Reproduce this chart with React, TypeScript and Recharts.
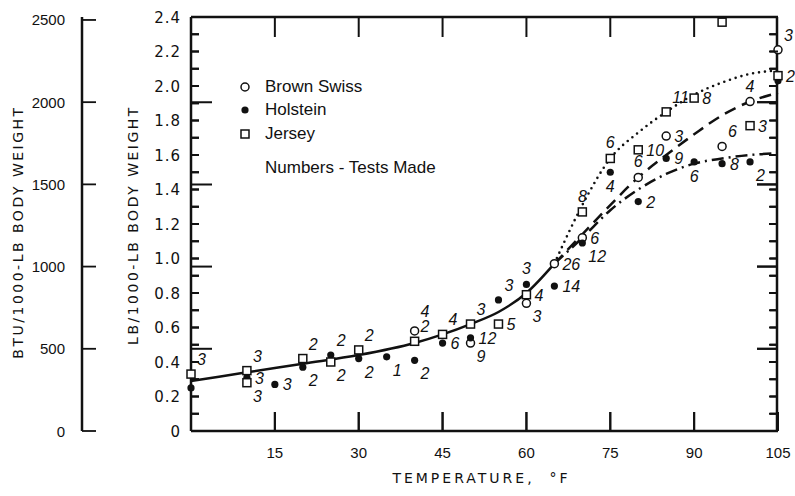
import React from 'react';
import { ComposedChart, Line, Scatter, XAxis, YAxis, Legend } from 'recharts';

// axis ticks
const X_TICKS = [15, 30, 45, 60, 75, 90, 105];
const EDGE_X_TICKS = [15, 30, 45, 60, 75, 90];
const LB_TICKS = [0, 0.2, 0.4, 0.6, 0.8, 1.0, 1.2, 1.4, 1.6, 1.8, 2.0, 2.2, 2.4];
const LB_ALL = [0, 0.1, 0.2, 0.3, 0.4, 0.5, 0.6, 0.7, 0.8, 0.9, 1.0, 1.1, 1.2, 1.3, 1.4, 1.5, 1.6, 1.7, 1.8, 1.9, 2.0, 2.1, 2.2, 2.3, 2.4];
const LB_MINOR = [0.1, 0.2, 0.3, 0.4, 0.5, 0.6, 0.7, 0.8, 0.9, 1.0, 1.1, 1.2, 1.3, 1.4, 1.5, 1.6, 1.7, 1.8, 1.9, 2.0, 2.1, 2.2, 2.3];
const BTU_TICKS = [0, 500, 1000, 1500, 2000, 2500];
const BTU_LONG = [500, 1000, 1500, 2000];

// fitted curves (temperature F, lb/1000-lb body weight)
const COMMON_T = [0, 10, 20, 30, 40, 45, 50, 55, 60, 65];
const COMMON_R = [0.29, 0.34, 0.39, 0.44, 0.51, 0.56, 0.62, 0.69, 0.8, 0.97];
const WARM_T = [65, 70, 75, 80, 85, 90, 95, 100, 105];
const JE_CURVE = [0.97, 1.31, 1.58, 1.73, 1.85, 1.95, 2.02, 2.07, 2.09];
const BS_CURVE = [0.97, 1.14, 1.31, 1.47, 1.6, 1.72, 1.83, 1.91, 1.96];
const HO_CURVE = [0.97, 1.12, 1.28, 1.4, 1.49, 1.55, 1.58, 1.6, 1.61];

// Brown Swiss
const BS_TEMP = [40, 50, 60, 65, 70, 80, 85, 95, 100, 105];
const BS_RATE = [0.58, 0.51, 0.74, 0.97, 1.12, 1.47, 1.71, 1.65, 1.91, 2.21];
const BS_TESTS = [4, 9, 3, 26, 6, 6, 3, 6, 4, 3];
const BS_SIDE = ['ur', 'br', 'br', 'r', 'r', 't', 'r', 'tr', 't', 'tr'];

// Holstein
const HO_TEMP = [0, 10, 15, 20, 25, 30, 35, 40, 45, 50, 55, 60, 65, 70, 75, 80, 85, 90, 95, 100, 105];
const HO_RATE = [0.25, 0.31, 0.27, 0.37, 0.44, 0.42, 0.43, 0.41, 0.51, 0.54, 0.76, 0.85, 0.84, 1.09, 1.5, 1.33, 1.58, 1.56, 1.55, 1.56, 2.03];
const HO_TESTS = [null, 3, 3, 2, 2, 2, 1, 2, 6, 12, 3, 3, 14, 12, 4, 2, 9, 6, 8, 2, null];
const HO_SIDE = ['', 'r', 'r', 'br', 'tr', 'br', 'br', 'br', 'r', 'r', 'tr', 't', 'r', 'br', 'b', 'r', 'r', 'b', 'r', 'br', ''];

// Jersey
const JE_TEMP = [0, 10, 10, 20, 25, 30, 40, 45, 50, 55, 60, 70, 75, 80, 85, 90, 95, 100, 105];
const JE_RATE = [0.33, 0.35, 0.28, 0.42, 0.4, 0.47, 0.52, 0.56, 0.62, 0.62, 0.79, 1.27, 1.58, 1.63, 1.85, 1.93, 2.37, 1.77, 2.06];
const JE_TESTS = [3, 3, 3, 2, 2, 2, 2, 4, 3, 5, 4, 8, 6, 10, 11, 8, null, 3, 2];
const JE_SIDE = ['tr', 'tr', 'br', 'tr', 'br', 'tr', 'tr', 'tr', 'tr', 'r', 'r', 't', 't', 'r', 'tr', 'r', '', 'r', 'r'];

const INK = '#111';
const PLAIN = "'Liberation Sans', Arial, sans-serif";
const LETTER = "'DejaVu Sans', sans-serif";
const X_MAX = 105;
const LB_MAX = 2.4;
const BTU_DOMAIN = [0, 2518];
const MARK_W = 2;

const curve = (t: number[], r: number[]) => t.map((x, i) => ({ x, y: r[i] }));
const points = (t: number[], r: number[], n: (number | null)[], side: string[]) =>
  t.map((x, i) => ({ x, y: r[i], n: n[i], side: side[i] }));
const atX = (x: number, ys: number[]) => ys.map((y) => ({ x, y }));
const atY = (y: number, xs: number[]) => xs.map((x) => ({ x, y }));

// where the "tests made" count sits relative to its marker
const SIDES: Record<string, { dx: number; dy: number; anchor: string }> = {
  r: { dx: 8, dy: 6, anchor: 'start' },
  tr: { dx: 6, dy: -9, anchor: 'start' },
  ur: { dx: 6, dy: -14, anchor: 'start' },
  br: { dx: 6, dy: 19, anchor: 'start' },
  t: { dx: 0, dy: -10, anchor: 'middle' },
  b: { dx: 0, dy: 20, anchor: 'middle' },
};

const KIND: Record<string, string> = { 'Brown Swiss': 'open', Holstein: 'filled', Jersey: 'square' };

function Marker({ kind, cx, cy }: { kind: string; cx: number; cy: number }) {
  if (kind === 'open') return <circle cx={cx} cy={cy} r={4} fill="#fff" stroke={INK} strokeWidth={1.5} />;
  if (kind === 'filled') return <circle cx={cx} cy={cy} r={3.6} fill={INK} />;
  return <rect x={cx - 4} y={cy - 4} width={8} height={8} fill="#fff" stroke={INK} strokeWidth={1.5} />;
}

const makeShape = (kind: string) => (props: any) => {
  const { cx, cy, payload } = props;
  const s = SIDES[payload.side];
  return (
    <g>
      <Marker kind={kind} cx={cx} cy={cy} />
      {s && payload.n != null && (
        <text
          x={cx + s.dx}
          y={cy + s.dy}
          textAnchor={s.anchor as any}
          style={{ fontFamily: PLAIN, fontStyle: 'italic', fontSize: 16, fill: INK }}
        >
          {payload.n}
        </text>
      )}
    </g>
  );
};

// short inward mark on the frame, drawn from the scaled position
const edgeMark = (dx: number, dy: number) => (props: any) => (
  <g>
    <path d={`M${props.cx},${props.cy}L${props.cx + dx},${props.cy + dy}`} stroke={INK} strokeWidth={MARK_W} fill="none" />
  </g>
);

// temperature labels plus the inward marks above them
const XTick = ({ x, y, payload }: any) => (
  <g>
    <path d={`M${x},${y - 16}L${x},${y - 35}`} stroke={INK} strokeWidth={MARK_W} fill="none" />
    <text x={x} y={y + 11} textAnchor="middle" style={{ fontFamily: PLAIN, fontSize: 15, fill: INK }}>
      {payload.value}
    </text>
  </g>
);

const TopTick = ({ x, y }: any) => (
  <path d={`M${x},${y}L${x},${y + 20}`} stroke={INK} strokeWidth={MARK_W} fill="none" />
);

// lb scale: mark every 0.1, label every 0.2
const LbTick = ({ x, y, payload }: any) => {
  const v = payload.value;
  return (
    <g>
      <path d={`M${x + 10},${y}L${x + 18},${y}`} stroke={INK} strokeWidth={MARK_W} fill="none" />
      {LB_TICKS.includes(v) && (
        <text x={x} y={y + 5.5} textAnchor="end" style={{ fontFamily: LETTER, fontSize: 15, letterSpacing: 1, fill: INK }}>
          {v === 0 ? '0' : v.toFixed(1)}
        </text>
      )}
    </g>
  );
};

// BTU scale: mark points right from its axis line, label sits left of it
const BtuTick = ({ x, y, payload }: any) => (
  <g>
    <line x1={x + 17} x2={x + 31} y1={y} y2={y} stroke={INK} strokeWidth={1.8} />
    <text x={x} y={y + 5.5} textAnchor="end" style={{ fontFamily: PLAIN, fontSize: 15, fill: INK }}>
      {payload.value}
    </text>
  </g>
);

const NoLabel = () => <g />;

const vTitle = (text: string, dx: number, dy: number) => (props: any) => {
  const vb = props.viewBox;
  const cx = vb.x + vb.width / 2 + dx;
  const cy = vb.y + vb.height / 2 + dy;
  return (
    <text
      x={cx}
      y={cy}
      transform={`rotate(-90 ${cx} ${cy})`}
      textAnchor="middle"
      dominantBaseline="central"
      style={{ fontFamily: LETTER, fontSize: 14, letterSpacing: 2.5, fill: INK }}
    >
      {text}
    </text>
  );
};

const xTitle = (props: any) => {
  const vb = props.viewBox;
  return (
    <text
      x={vb.x + vb.width / 2 - 3}
      y={vb.y + 52}
      textAnchor="middle"
      style={{ fontFamily: LETTER, fontSize: 14, letterSpacing: 3, fill: INK, whiteSpace: 'pre' }}
    >
      {'TEMPERATURE,  °F'}
    </text>
  );
};

const renderLegend = ({ payload }: any) => (
  <div style={{ fontFamily: PLAIN, fontSize: 17, color: INK }}>
    {(payload || [])
      .filter((entry: any) => KIND[entry.value])
      .map((entry: any) => (
        <div key={entry.value} style={{ display: 'flex', alignItems: 'center', height: 23.5 }}>
          <svg width={25} height={12}>
            <Marker kind={KIND[entry.value]} cx={5} cy={6} />
          </svg>
          <span>{entry.value}</span>
        </div>
      ))}
    <div style={{ marginTop: 10, paddingLeft: 25, lineHeight: '23.5px' }}>Numbers - Tests Made</div>
  </div>
);

const axisLine = { stroke: INK, strokeWidth: 2.5 };
const tickLine = { stroke: INK, strokeWidth: MARK_W };

export default function App() {
  return (
    <div style={{ position: 'absolute', left: 0, top: 0, width: 795, height: 496, background: '#fff' }}>
      <ComposedChart width={795} height={496} margin={{ top: 16, right: 17, bottom: 0, left: 0 }}>
        <XAxis
          dataKey="x"
          type="number"
          domain={[0, X_MAX]}
          ticks={X_TICKS}
          interval={0}
          height={65}
          axisLine={axisLine}
          tickLine={false}
          tickSize={0}
          tickMargin={16}
          tick={<XTick />}
          label={xTitle}
        />
        <XAxis
          xAxisId="top"
          orientation="top"
          type="number"
          domain={[0, X_MAX]}
          allowDataOverflow
          ticks={EDGE_X_TICKS}
          interval={0}
          height={1}
          axisLine={axisLine}
          tickLine={false}
          tickSize={0}
          tickMargin={0}
          tick={<TopTick />}
        />
        <YAxis
          dataKey="y"
          type="number"
          domain={[0, LB_MAX]}
          ticks={LB_ALL}
          interval={0}
          width={109}
          axisLine={axisLine}
          tickLine={false}
          tickSize={0}
          tickMargin={10}
          tick={<LbTick />}
          label={vTitle('LB/1000-LB BODY WEIGHT', -4, 1)}
        />
        <YAxis
          yAxisId="btu"
          type="number"
          domain={BTU_DOMAIN}
          allowDataOverflow
          ticks={BTU_TICKS}
          interval={0}
          width={82}
          axisLine={axisLine}
          tickLine={false}
          tickSize={0}
          tickMargin={17}
          tick={<BtuTick />}
          label={vTitle('BTU/1000-LB BODY WEIGHT', -23, 8)}
        />
        <YAxis
          yAxisId="right"
          orientation="right"
          mirror
          type="number"
          domain={[0, LB_MAX]}
          allowDataOverflow
          ticks={LB_MINOR}
          interval={0}
          width={1}
          axisLine={axisLine}
          tickLine={tickLine}
          tickSize={8}
          tick={NoLabel}
        />
        <YAxis
          yAxisId="btuR"
          orientation="right"
          mirror
          type="number"
          domain={BTU_DOMAIN}
          allowDataOverflow
          ticks={BTU_LONG}
          interval={0}
          width={1}
          axisLine={false}
          tickLine={tickLine}
          tickSize={21}
          tick={NoLabel}
        />

        <Line data={curve(COMMON_T, COMMON_R)} dataKey="y" type="monotone" stroke={INK} strokeWidth={2.5}
          dot={false} activeDot={false} legendType="none" isAnimationActive={false} />
        <Line data={curve(WARM_T, JE_CURVE)} dataKey="y" type="monotone" stroke={INK} strokeWidth={2.6}
          strokeDasharray="0 6" strokeLinecap="round" dot={false} activeDot={false} legendType="none" isAnimationActive={false} />
        <Line data={curve(WARM_T, BS_CURVE)} dataKey="y" type="monotone" stroke={INK} strokeWidth={2.5}
          strokeDasharray="12 7" dot={false} activeDot={false} legendType="none" isAnimationActive={false} />
        <Line data={curve(WARM_T, HO_CURVE)} dataKey="y" type="monotone" stroke={INK} strokeWidth={2.5}
          strokeDasharray="12 5 2 5" dot={false} activeDot={false} legendType="none" isAnimationActive={false} />

        <Scatter name="Brown Swiss" data={points(BS_TEMP, BS_RATE, BS_TESTS, BS_SIDE)} dataKey="y" fill={INK}
          shape={makeShape('open')} isAnimationActive={false} />
        <Scatter name="Holstein" data={points(HO_TEMP, HO_RATE, HO_TESTS, HO_SIDE)} dataKey="y" fill={INK}
          shape={makeShape('filled')} isAnimationActive={false} />
        <Scatter name="Jersey" data={points(JE_TEMP, JE_RATE, JE_TESTS, JE_SIDE)} dataKey="y" fill={INK}
          shape={makeShape('square')} isAnimationActive={false} />

        {/* inward tick marks on the frame, placed through the chart's scales */}
        <Scatter name="top marks" data={atY(LB_MAX, EDGE_X_TICKS)} dataKey="y" fill={INK}
          shape={edgeMark(0, 20)} isAnimationActive={false} />
        <Scatter name="bottom marks" data={atY(0, EDGE_X_TICKS)} dataKey="y" fill={INK}
          shape={edgeMark(0, -19)} isAnimationActive={false} />
        <Scatter name="left marks" data={atX(0, LB_MINOR)} dataKey="y" fill={INK}
          shape={edgeMark(8, 0)} isAnimationActive={false} />
        <Scatter name="right marks" data={atX(X_MAX, LB_MINOR)} dataKey="y" fill={INK}
          shape={edgeMark(-8, 0)} isAnimationActive={false} />
        <Scatter name="left btu marks" data={atX(0, BTU_LONG)} yAxisId="btu" dataKey="y" fill={INK}
          shape={edgeMark(21, 0)} isAnimationActive={false} />
        <Scatter name="right btu marks" data={atX(X_MAX, BTU_LONG)} yAxisId="btu" dataKey="y" fill={INK}
          shape={edgeMark(-21, 0)} isAnimationActive={false} />

        <Legend
          layout="vertical"
          align="center"
          verticalAlign="middle"
          wrapperStyle={{ left: 240, top: 75, width: 230 }}
          content={renderLegend}
        />
      </ComposedChart>
    </div>
  );
}
